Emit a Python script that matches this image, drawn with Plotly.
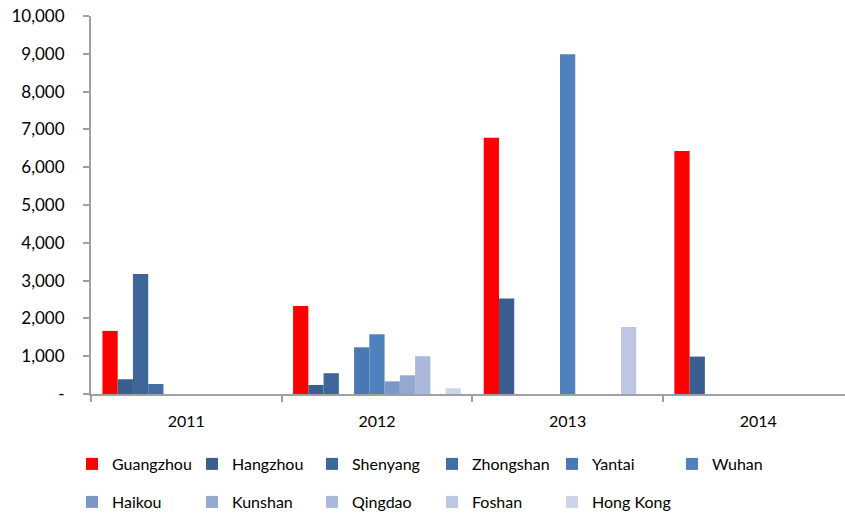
import plotly.graph_objects as go

years = ["2011", "2012", "2013", "2014"]

cities = ["Guangzhou", "Hangzhou", "Shenyang", "Zhongshan", "Yantai", "Wuhan",
          "Haikou", "Kunshan", "Qingdao", "Foshan", "Hong Kong"]

guangzhou = [1670, 2330, 6780, 6430]
hangzhou = [390, 240, 2525, 990]
shenyang = [3175, 550, None, None]
zhongshan = [265, None, None, None]
yantai = [None, 1235, None, None]
wuhan = [None, 1580, 8990, None]
haikou = [None, 335, None, None]
kunshan = [None, 495, None, None]
qingdao = [None, 1000, None, None]
foshan = [None, None, 1775, None]
hong_kong = [None, 150, None, None]

series = [guangzhou, hangzhou, shenyang, zhongshan, yantai, wuhan,
          haikou, kunshan, qingdao, foshan, hong_kong]

colors = ["#FF0000", "#3A5F8E", "#3E6699", "#446FA6", "#4A78B2", "#4F81BD",
          "#7A97C8", "#94A8D0", "#AAB9DA", "#BDC7E1", "#CDD4E8"]

y_tickvals = [0, 1000, 2000, 3000, 4000, 5000, 6000, 7000, 8000, 9000, 10000]
y_ticktext = ["-", "1,000", "2,000", "3,000", "4,000", "5,000", "6,000",
              "7,000", "8,000", "9,000", "10,000"]

FONT = "Lato"

fig = go.Figure()
for i, (name, vals, col) in enumerate(zip(cities, series, colors)):
    fig.add_trace(go.Bar(
        x=years, y=vals, name=name,
        marker=dict(color=col, line=dict(width=0)),
        legend="legend" if i < 6 else "legend2",
    ))

legend_common = dict(
    orientation="h",
    xref="container", yref="container",
    xanchor="left", yanchor="middle",
    font=dict(family=FONT, size=16, color="#000000"),
    itemwidth=30,
    entrywidth=75, entrywidthmode="pixels",
    bgcolor="rgba(0,0,0,0)",
    traceorder="normal",
    tracegroupgap=0,
)

fig.update_layout(
    width=845, height=515,
    margin=dict(l=91, r=0, t=16, b=121),
    paper_bgcolor="white", plot_bgcolor="white",
    barmode="group", bargap=0.12, bargroupgap=0,
    font=dict(family=FONT, size=16, color="#000000"),
    showlegend=True,
    legend=dict(**legend_common, x=72 / 845, y=1 - 464 / 515),
    legend2=dict(**legend_common, x=72 / 845, y=1 - 502 / 515),
    xaxis=dict(
        type="category", range=[-0.5, 3.455],
        showline=True, linecolor="#A0A0A0", linewidth=2,
        ticks="outside", tickson="boundaries", ticklen=6,
        tickcolor="#A0A0A0", tickwidth=2,
        showgrid=False, zeroline=False,
        ticklabelstandoff=12,
        tickfont=dict(family=FONT, size=16, color="#000000"),
    ),
    yaxis=dict(
        range=[0, 10000],
        tickvals=y_tickvals, ticktext=y_ticktext,
        showline=True, linecolor="#A0A0A0", linewidth=2,
        ticks="outside", ticklen=6, tickcolor="#A0A0A0", tickwidth=2,
        showgrid=False, zeroline=False,
        ticklabelstandoff=15,
        tickfont=dict(family=FONT, size=17, color="#000000"),
    ),
)

fig.write_html("out.html")
